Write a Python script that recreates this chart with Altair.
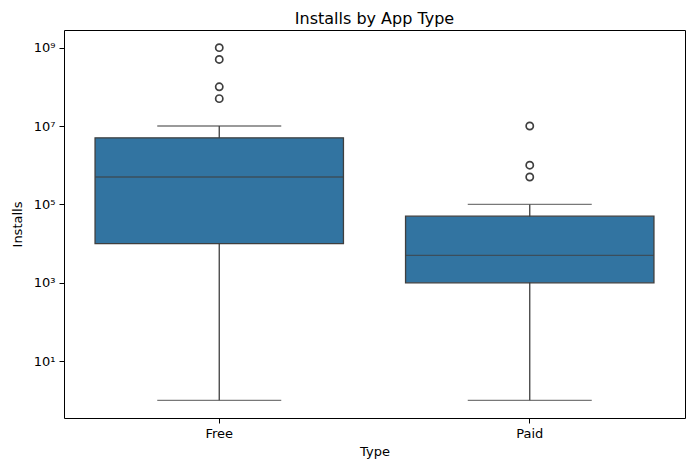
import altair as alt
import pandas as pd

types = ["Free", "Paid"]
whisker_low = [1, 1]
q1 = [1e4, 1e3]
median = [5e5, 5e3]
q3 = [5e6, 5e4]
whisker_high = [1e7, 1e5]
outlier_type = ["Free", "Free", "Free", "Free", "Paid", "Paid", "Paid"]
outlier_val = [1e9, 5e8, 1e8, 5e7, 1e7, 1e6, 5e5]
y_ticks = [10, 1e3, 1e5, 1e7, 1e9]

box = pd.DataFrame({"Type": types, "lo": whisker_low, "q1": q1, "med": median,
                    "q3": q3, "hi": whisker_high})
out = pd.DataFrame({"Type": outlier_type, "Installs": outlier_val})

FONT = "DejaVu Sans"
EDGE = "#3f3f3f"
FILL = "#3274a1"

xenc = alt.X("Type:N", sort=types,
             scale=alt.Scale(paddingInner=0, paddingOuter=0),
             axis=alt.Axis(title="Type", labelAngle=0, tickSize=5, labelPadding=4,
                           labelFontSize=13, titleFontSize=13, titlePadding=5,
                           labelColor="black", titleColor="black", tickColor="black",
                           domain=False, titleFontWeight="normal"))
yscale = alt.Scale(type="log", domain=[10 ** -0.45, 10 ** 9.45], nice=False)
label_expr = ("datum.value >= 1e9 ? '10⁹' : datum.value >= 1e7 ? '10⁷' : "
              "datum.value >= 1e5 ? '10⁵' : datum.value >= 1e3 ? '10³' : '10¹'")
yaxis = alt.Axis(title="Installs", values=y_ticks, labelExpr=label_expr, tickSize=5,
                 labelPadding=4, labelFontSize=13, titleFontSize=13, grid=False,
                 labelColor="black", titleColor="black", tickColor="black", domain=False,
                 titleX=-47, titleY=194, titleAngle=-90, titleAlign="center",
                 titleBaseline="middle", titleFontWeight="normal")

base = alt.Chart(box)
whisk = base.mark_rule(color=EDGE, strokeWidth=1.3).encode(
    x=xenc, y=alt.Y("lo:Q", scale=yscale, axis=yaxis), y2="hi:Q")
bars = base.mark_bar(color=FILL, stroke=EDGE, strokeWidth=1.3,
                     width=alt.RelativeBandSize(0.8)).encode(
    x=alt.X("Type:N", sort=types), y=alt.Y("q1:Q", scale=yscale), y2="q3:Q")
med = base.mark_tick(color=EDGE, thickness=1.3, size=248, orient="horizontal").encode(
    x=alt.X("Type:N", sort=types), y=alt.Y("med:Q", scale=yscale))
cap_lo = base.mark_tick(color=EDGE, thickness=1.3, size=124, orient="horizontal").encode(
    x=alt.X("Type:N", sort=types), y=alt.Y("lo:Q", scale=yscale))
cap_hi = base.mark_tick(color=EDGE, thickness=1.3, size=124, orient="horizontal").encode(
    x=alt.X("Type:N", sort=types), y=alt.Y("hi:Q", scale=yscale))
pts = alt.Chart(out).mark_point(shape="circle", filled=False, size=52, color=EDGE,
                                strokeWidth=1.7, opacity=1).encode(
    x=alt.X("Type:N", sort=types), y=alt.Y("Installs:Q", scale=yscale))

chart = (whisk + bars + med + cap_lo + cap_hi + pts).properties(
    width=621, height=388,
    title=alt.Title("Installs by App Type", fontSize=16, fontWeight="normal",
                    font=FONT, color="black", offset=3),
    autosize=alt.AutoSizeParams(type="none"),
    padding={"left": 56, "top": 22, "right": 1, "bottom": 44},
).configure(font=FONT, background="white").configure_view(
    stroke="black", strokeWidth=1)

chart.save("out.html", embed_options={"renderer": "svg", "actions": False})
